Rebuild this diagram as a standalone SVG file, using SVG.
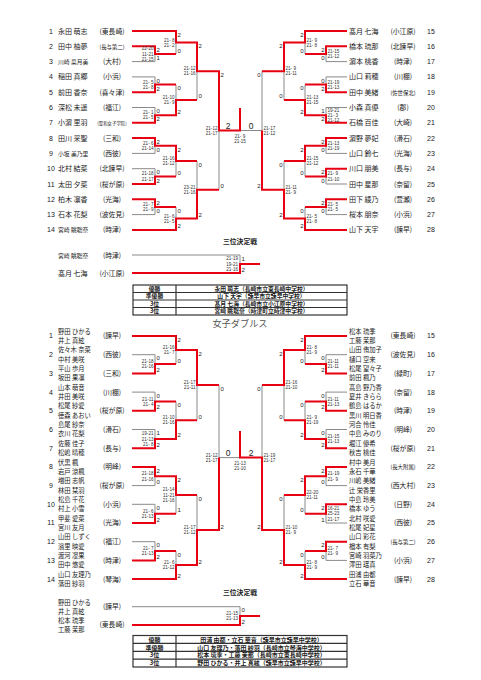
<svg xmlns="http://www.w3.org/2000/svg" width="481" height="680" viewBox="0 0 481 680">
<style>
.t{font-family:"Noto Sans CJK JP","Noto Sans CJK SC",sans-serif;fill:#1a1a1a}
.nm{font-size:7px}
.dn{font-size:6.3px}
.sm{font-size:5.8px}
.sch{font-size:6.8px;text-anchor:middle}
.ss{font-size:5.4px}
.xs{font-size:4.4px}
.num{font-family:"Liberation Sans",sans-serif;font-size:7px;text-anchor:middle;fill:#1a1a1a}
.sc{font-family:"Liberation Sans",sans-serif;font-size:4.6px;fill:#333}
.e{text-anchor:end}
.m{text-anchor:middle}
.ct{font-family:"Liberation Sans",sans-serif;font-size:6px;fill:#222}
.fc{font-family:"Liberation Sans",sans-serif;font-size:8.5px;fill:#222;text-anchor:middle}
.r{stroke:#e60012;stroke-width:2;fill:none}
.g{stroke:#8a8a8a;stroke-width:1;fill:none}
.tb{fill:none;stroke:#333;stroke-width:1.2}
.tt{font-family:"Noto Sans CJK JP",sans-serif;font-size:5.8px;font-weight:bold;fill:#1a1a1a;text-anchor:middle}
.td{font-size:6px}
.ti{font-family:"Noto Sans CJK JP",sans-serif;font-size:6.8px;font-weight:bold;fill:#1a1a1a;text-anchor:middle}
.hd{font-family:"Noto Sans CJK JP",sans-serif;font-size:9.2px;fill:#555;text-anchor:middle}
</style>

<!-- ===== connectors ===== -->
<g id="connectors">
<path class="g" d="M132 61.6H155V54M176 54V42.5M132 76.9H155V84.6M132 107.5H155V115.2M176 84.6V99.9M197 99.9V71.2M132 153.4H155V145.8M132 168.7H155V176.4M176 176.4V161.1M132 214.6H155V207M176 207V218.5M197 161.1V189.8M219 189.8V130.5"/>
<path class="g" d="M262 130.5H240M347 61.6H326V54M305 54V42.5M347 76.9H326V84.6M347 107.5H326V115.2M305 84.6V99.9M284 99.9V71.2M347 153.4H326V145.8M347 184H326V176.4M305 176.4V161.1M347 214.6H326V207M305 207V218.5M284 161.1V189.8M262 71.2V130.5"/>
<path class="g" d="M132 255H240V264"/>
<path class="r" d="M132 31H176V42.5H197V71.2H219V130.5H240V108"/>
<path class="r" d="M132 46.3H155V54H176"/>
<path class="r" d="M132 92.2H155V84.6H176"/>
<path class="r" d="M132 122.8H155V115.2H176V99.9H197"/>
<path class="r" d="M132 138.1H155V145.8H176V161.1H197"/>
<path class="r" d="M132 184H155V176.4H176"/>
<path class="r" d="M132 199.3H155V207H176"/>
<path class="r" d="M132 229.9H176V218.5H197V189.8H219"/>
<path class="r" d="M347 31H305V42.5H284V71.2H262"/>
<path class="r" d="M347 46.3H326V54H305"/>
<path class="r" d="M347 92.2H326V84.6H305"/>
<path class="r" d="M347 122.8H326V115.2H305V99.9H284"/>
<path class="r" d="M347 138.1H326V145.8H305V161.1H284"/>
<path class="r" d="M347 168.7H326V176.4H305"/>
<path class="r" d="M347 199.3H326V207H305"/>
<path class="r" d="M347 229.9H305V218.5H284V189.8H262V130.5"/>
<path class="r" d="M132 273H240V264H260"/>
<path class="g" d="M132 354.7H155V364.1M176 364.1V350M132 392.1H155V401.5M132 429.5H155V438.9M176 401.5V420.2M197 420.2V385.1M132 485.6H155V476.3M132 504.3H155V513.7M176 513.7V495M132 541.7H155V551.1M176 551.1V565.1M197 495V530M219 385.1V457.6H240"/>
<path class="g" d="M347 354.7H326V364.1M305 364.1V350M347 392.1H326V401.5M347 429.5H326V438.9M305 401.5V420.2M284 420.2V385.1M347 485.6H326V476.3M347 523H326V513.7M305 513.7V495M347 560.4H326V551.1M305 551.1V565.1M284 495V530M262 385.1V457.6"/>
<path class="g" d="M132 606.7H240V615.9"/>
<path class="r" d="M132 336H176V350H197V385.1H219"/>
<path class="r" d="M132 373.4H155V364.1H176"/>
<path class="r" d="M132 410.8H155V401.5H176"/>
<path class="r" d="M132 448.2H155V438.9H176V420.2H197"/>
<path class="r" d="M132 466.9H155V476.3H176V495H197"/>
<path class="r" d="M132 523H155V513.7H176"/>
<path class="r" d="M132 560.4H155V551.1H176"/>
<path class="r" d="M132 579.1H176V565.1H197V530H219V457.6"/>
<path class="r" d="M347 336H305V350H284V385.1H262"/>
<path class="r" d="M347 373.4H326V364.1H305"/>
<path class="r" d="M347 410.8H326V401.5H305"/>
<path class="r" d="M347 448.2H326V438.9H305V420.2H284"/>
<path class="r" d="M347 466.9H326V476.3H305V495H284"/>
<path class="r" d="M347 504.3H326V513.7H305"/>
<path class="r" d="M347 541.7H326V551.1H305"/>
<path class="r" d="M347 579.1H305V565.1H284V530H262V457.6H240V431"/>
<path class="r" d="M132 625H240V615.9H260"/>
</g>

<!-- ===== scores ===== -->
<g id="scores-singles">
<text class="sc e" x="153.5" y="50.4">22-20</text><text class="sc e" x="153.5" y="55.6">11-21</text><text class="sc e" x="153.5" y="60.8">21-15</text>
<text class="sc e" x="174.5" y="41.5">21- 8</text><text class="sc e" x="174.5" y="46.7">21- 2</text>
<text class="sc e" x="153.5" y="83.6">21- 5</text><text class="sc e" x="153.5" y="88.8">21- 8</text>
<text class="sc e" x="153.5" y="114.2">21- 1</text><text class="sc e" x="153.5" y="119.4">21- 5</text>
<text class="sc e" x="174.5" y="98.9">21-10</text><text class="sc e" x="174.5" y="104.1">21- 9</text>
<text class="sc e" x="195.5" y="70.2">21-12</text><text class="sc e" x="195.5" y="75.4">21-16</text>
<text class="sc e" x="153.5" y="144.8">21- 6</text><text class="sc e" x="153.5" y="150">21-14</text>
<text class="sc e" x="153.5" y="175.4">21-18</text><text class="sc e" x="153.5" y="180.6">21-17</text>
<text class="sc e" x="174.5" y="160.1">21-16</text><text class="sc e" x="174.5" y="165.3">21-12</text>
<text class="sc e" x="153.5" y="206">21- 7</text><text class="sc e" x="153.5" y="211.2">21- 9</text>
<text class="sc e" x="174.5" y="217.5">21- 6</text><text class="sc e" x="174.5" y="222.7">21- 5</text>
<text class="sc e" x="195.5" y="188.8">23-21</text><text class="sc e" x="195.5" y="194">21-16</text>
<text class="sc e" x="217.5" y="129.5">21-12</text><text class="sc e" x="217.5" y="134.7">21-17</text>
<text class="ct" x="156.5" y="52">2</text><text class="ct" x="156.5" y="60.1">1</text>
<text class="ct" x="177.5" y="36.7">2</text><text class="ct" x="177.5" y="52.5">0</text>
<text class="ct" x="156.5" y="82.6">0</text><text class="ct" x="156.5" y="90.7">2</text>
<text class="ct" x="156.5" y="113.2">0</text><text class="ct" x="156.5" y="121.3">2</text>
<text class="ct" x="177.5" y="90.3">0</text><text class="ct" x="177.5" y="113.7">2</text>
<text class="ct" x="198.5" y="48.2">2</text><text class="ct" x="198.5" y="98.4">0</text>
<text class="ct" x="156.5" y="143.8">2</text><text class="ct" x="156.5" y="151.9">0</text>
<text class="ct" x="156.5" y="174.4">0</text><text class="ct" x="156.5" y="182.5">2</text>
<text class="ct" x="177.5" y="151.5">2</text><text class="ct" x="177.5" y="174.9">0</text>
<text class="ct" x="156.5" y="205">2</text><text class="ct" x="156.5" y="213.1">0</text>
<text class="ct" x="177.5" y="212.7">0</text><text class="ct" x="177.5" y="228.4">2</text>
<text class="ct" x="198.5" y="166.8">0</text><text class="ct" x="198.5" y="217">2</text>
<text class="ct" x="220.5" y="76.9">2</text><text class="ct" x="220.5" y="188.3">0</text>
<text class="sc" x="327.5" y="53">21-15</text><text class="sc" x="327.5" y="58.2">21-12</text>
<text class="sc" x="306.5" y="41.5">21- 9</text><text class="sc" x="306.5" y="46.7">21- 8</text>
<text class="sc" x="327.5" y="83.6">21-19</text><text class="sc" x="327.5" y="88.8">21-13</text>
<text class="sc" x="327.5" y="111.6">19-21</text><text class="sc" x="327.5" y="116.8">21- 3</text><text class="sc" x="327.5" y="122">21-12</text>
<text class="sc" x="306.5" y="98.9">21-13</text><text class="sc" x="306.5" y="104.1">21-15</text>
<text class="sc" x="285.5" y="70.2">21- 9</text><text class="sc" x="285.5" y="75.4">21-11</text>
<text class="sc" x="327.5" y="144.8">21-13</text><text class="sc" x="327.5" y="150">21-19</text>
<text class="sc" x="327.5" y="175.4">21- 9</text><text class="sc" x="327.5" y="180.6">21-10</text>
<text class="sc" x="306.5" y="160.1">21-15</text><text class="sc" x="306.5" y="165.3">21-12</text>
<text class="sc" x="327.5" y="206">21- 5</text><text class="sc" x="327.5" y="211.2">21- 5</text>
<text class="sc" x="306.5" y="217.5">21- 5</text><text class="sc" x="306.5" y="222.7">21- 8</text>
<text class="sc" x="285.5" y="188.8">21-11</text><text class="sc" x="285.5" y="194">21- 9</text>
<text class="sc" x="263.5" y="129.5">21-17</text><text class="sc" x="263.5" y="134.7">21-12</text>
<text class="ct e" x="324.5" y="52">2</text><text class="ct e" x="324.5" y="60.1">0</text>
<text class="ct e" x="303.5" y="36.7">2</text><text class="ct e" x="303.5" y="52.5">0</text>
<text class="ct e" x="324.5" y="82.6">0</text><text class="ct e" x="324.5" y="90.7">2</text>
<text class="ct e" x="324.5" y="113.2">1</text><text class="ct e" x="324.5" y="121.3">2</text>
<text class="ct e" x="303.5" y="90.3">0</text><text class="ct e" x="303.5" y="113.7">2</text>
<text class="ct e" x="282.5" y="48.2">2</text><text class="ct e" x="282.5" y="98.4">0</text>
<text class="ct e" x="324.5" y="143.8">2</text><text class="ct e" x="324.5" y="151.9">0</text>
<text class="ct e" x="324.5" y="174.4">2</text><text class="ct e" x="324.5" y="182.5">0</text>
<text class="ct e" x="303.5" y="151.5">2</text><text class="ct e" x="303.5" y="174.9">0</text>
<text class="ct e" x="324.5" y="205">2</text><text class="ct e" x="324.5" y="213.1">0</text>
<text class="ct e" x="303.5" y="212.7">0</text><text class="ct e" x="303.5" y="228.4">2</text>
<text class="ct e" x="282.5" y="166.8">0</text><text class="ct e" x="282.5" y="217">2</text>
<text class="ct e" x="260.5" y="76.9">0</text><text class="ct e" x="260.5" y="188.3">2</text>
<text class="fc" x="228" y="128.5">2</text><text class="fc" x="251" y="128.5">0</text>
<text class="sc m" x="240" y="137.5">21- 9</text><text class="sc m" x="240" y="142.7">21-15</text>
<text class="sc e" x="238" y="260.4">21-19</text><text class="sc e" x="238" y="265.6">19-21</text><text class="sc e" x="238" y="270.8">21-16</text>
<text class="ct" x="241.5" y="260.7">1</text><text class="ct" x="241.5" y="271.5">2</text>
</g>

<g id="scores-doubles">
<text class="sc e" x="153.5" y="363.1">21-18</text><text class="sc e" x="153.5" y="368.3">21-16</text>
<text class="sc e" x="174.5" y="349">21-16</text><text class="sc e" x="174.5" y="354.2">21- 7</text>
<text class="sc e" x="153.5" y="400.5">21-11</text><text class="sc e" x="153.5" y="405.7">21- 4</text>
<text class="sc e" x="153.5" y="435.3">19-21</text><text class="sc e" x="153.5" y="440.5">21-13</text><text class="sc e" x="153.5" y="445.7">21- 8</text>
<text class="sc e" x="174.5" y="419.2">21-10</text><text class="sc e" x="174.5" y="424.4">21-16</text>
<text class="sc e" x="195.5" y="384.1">21-17</text><text class="sc e" x="195.5" y="389.3">21-11</text>
<text class="sc e" x="153.5" y="475.3">21-18</text><text class="sc e" x="153.5" y="480.5">21-16</text>
<text class="sc e" x="153.5" y="512.7">21- 6</text><text class="sc e" x="153.5" y="517.9">21-13</text>
<text class="sc e" x="174.5" y="491.4">21-14</text><text class="sc e" x="174.5" y="496.6">11-21</text><text class="sc e" x="174.5" y="501.8">21-16</text>
<text class="sc e" x="153.5" y="550.1">21- 7</text><text class="sc e" x="153.5" y="555.3">21-13</text>
<text class="sc e" x="174.5" y="564.1">21- 6</text><text class="sc e" x="174.5" y="569.3">21-12</text>
<text class="sc e" x="195.5" y="529">21-17</text><text class="sc e" x="195.5" y="534.2">21-12</text>
<text class="sc e" x="217.5" y="456.6">21-12</text><text class="sc e" x="217.5" y="461.8">21-17</text>
<text class="ct" x="156.5" y="360.4">0</text><text class="ct" x="156.5" y="371.9">2</text>
<text class="ct" x="177.5" y="341.7">2</text><text class="ct" x="177.5" y="362.6">0</text>
<text class="ct" x="156.5" y="397.8">0</text><text class="ct" x="156.5" y="409.3">2</text>
<text class="ct" x="156.5" y="435.2">1</text><text class="ct" x="156.5" y="446.7">2</text>
<text class="ct" x="177.5" y="407.2">0</text><text class="ct" x="177.5" y="437.4">2</text>
<text class="ct" x="198.5" y="355.7">2</text><text class="ct" x="198.5" y="418.7">0</text>
<text class="ct" x="156.5" y="472.6">2</text><text class="ct" x="156.5" y="484.1">0</text>
<text class="ct" x="156.5" y="510">0</text><text class="ct" x="156.5" y="521.5">2</text>
<text class="ct" x="177.5" y="482">2</text><text class="ct" x="177.5" y="512.2">1</text>
<text class="ct" x="156.5" y="547.4">0</text><text class="ct" x="156.5" y="558.9">2</text>
<text class="ct" x="177.5" y="556.8">0</text><text class="ct" x="177.5" y="577.6">2</text>
<text class="ct" x="198.5" y="500.7">0</text><text class="ct" x="198.5" y="563.6">2</text>
<text class="ct" x="220.5" y="390.8">0</text><text class="ct" x="220.5" y="528.5">2</text>
<text class="sc" x="327.5" y="363.1">21-11</text><text class="sc" x="327.5" y="368.3">21-11</text>
<text class="sc" x="306.5" y="349">21- 8</text><text class="sc" x="306.5" y="354.2">21- 9</text>
<text class="sc" x="327.5" y="400.5">21-11</text><text class="sc" x="327.5" y="405.7">21-13</text>
<text class="sc" x="327.5" y="437.9">21-15</text><text class="sc" x="327.5" y="443.1">21-13</text>
<text class="sc" x="306.5" y="419.2">21- 9</text><text class="sc" x="306.5" y="424.4">21-19</text>
<text class="sc" x="285.5" y="384.1">21-16</text><text class="sc" x="285.5" y="389.3">21-10</text>
<text class="sc" x="327.5" y="475.3">21-19</text><text class="sc" x="327.5" y="480.5">21- 9</text>
<text class="sc" x="327.5" y="510.1">16-21</text><text class="sc" x="327.5" y="515.3">25-23</text><text class="sc" x="327.5" y="520.5">21-17</text>
<text class="sc" x="306.5" y="494">22-20</text><text class="sc" x="306.5" y="499.2">21-11</text>
<text class="sc" x="327.5" y="550.1">21- 7</text><text class="sc" x="327.5" y="555.3">21- 9</text>
<text class="sc" x="306.5" y="564.1">21- 8</text><text class="sc" x="306.5" y="569.3">21- 9</text>
<text class="sc" x="285.5" y="529">21-10</text><text class="sc" x="285.5" y="534.2">21- 9</text>
<text class="sc" x="263.5" y="456.6">21-19</text><text class="sc" x="263.5" y="461.8">21-17</text>
<text class="ct e" x="324.5" y="360.4">0</text><text class="ct e" x="324.5" y="371.9">2</text>
<text class="ct e" x="303.5" y="341.7">2</text><text class="ct e" x="303.5" y="362.6">0</text>
<text class="ct e" x="324.5" y="397.8">0</text><text class="ct e" x="324.5" y="409.3">2</text>
<text class="ct e" x="324.5" y="435.2">0</text><text class="ct e" x="324.5" y="446.7">2</text>
<text class="ct e" x="303.5" y="407.2">0</text><text class="ct e" x="303.5" y="437.4">2</text>
<text class="ct e" x="282.5" y="355.7">2</text><text class="ct e" x="282.5" y="418.7">0</text>
<text class="ct e" x="324.5" y="472.6">2</text><text class="ct e" x="324.5" y="484.1">0</text>
<text class="ct e" x="324.5" y="510">2</text><text class="ct e" x="324.5" y="521.5">1</text>
<text class="ct e" x="303.5" y="482">2</text><text class="ct e" x="303.5" y="512.2">0</text>
<text class="ct e" x="324.5" y="547.4">2</text><text class="ct e" x="324.5" y="558.9">0</text>
<text class="ct e" x="303.5" y="556.8">0</text><text class="ct e" x="303.5" y="577.6">2</text>
<text class="ct e" x="282.5" y="500.7">0</text><text class="ct e" x="282.5" y="563.6">2</text>
<text class="ct e" x="260.5" y="390.8">0</text><text class="ct e" x="260.5" y="528.5">2</text>
<text class="fc" x="228" y="455.5">0</text><text class="fc" x="251" y="455.5">2</text>
<text class="sc m" x="240" y="465">21-13</text><text class="sc m" x="240" y="470.2">21-10</text>
<text class="sc e" x="238" y="614.9">21-15</text><text class="sc e" x="238" y="620.1">21-13</text>
<text class="ct" x="241.5" y="612.4">0</text><text class="ct" x="241.5" y="623.5">2</text>
</g>

<!-- ===== singles entries ===== -->
<g id="s1"><text class="num" x="51" y="33.5">1</text><text class="t nm" x="58" y="33.5">永田 萌志</text><text class="t sch" x="112" y="33.5">(東長崎)</text></g>
<g id="s2"><text class="num" x="51" y="48.8">2</text><text class="t nm" x="58" y="48.8">田中 柚夢</text><text class="t sch ss" x="112" y="48.8">(長与第二)</text></g>
<g id="s3"><text class="num" x="51" y="64.1">3</text><text class="t sm" x="58" y="64.1">川崎 菜月美</text><text class="t sch" x="112" y="64.1">(大村)</text></g>
<g id="s4"><text class="num" x="51" y="79.4">4</text><text class="t nm" x="58" y="79.4">稲田 真郷</text><text class="t sch" x="112" y="79.4">(小浜)</text></g>
<g id="s5"><text class="num" x="51" y="94.7">5</text><text class="t nm" x="58" y="94.7">前田 香奈</text><text class="t sch" x="112" y="94.7">(喜々津)</text></g>
<g id="s6"><text class="num" x="51" y="110">6</text><text class="t nm" x="58" y="110">深松 未遥</text><text class="t sch" x="112" y="110">(福江)</text></g>
<g id="s7"><text class="num" x="51" y="125.3">7</text><text class="t nm" x="58" y="125.3">小濵 里羽</text><text class="t sch xs" x="112" y="125.3">(聖和女子学院)</text></g>
<g id="s8"><text class="num" x="51" y="140.6">8</text><text class="t nm" x="58" y="140.6">田川 采聖</text><text class="t sch" x="112" y="140.6">(三和)</text></g>
<g id="s9"><text class="num" x="51" y="155.9">9</text><text class="t sm" x="58" y="155.9">小坂 美乃里</text><text class="t sch" x="112" y="155.9">(西彼)</text></g>
<g id="s10"><text class="num" x="51" y="171.2">10</text><text class="t nm" x="58" y="171.2">北村 結菜</text><text class="t sch" x="112" y="171.2">(北諫早)</text></g>
<g id="s11"><text class="num" x="51" y="186.5">11</text><text class="t nm" x="58" y="186.5">太田 夕菜</text><text class="t sch" x="112" y="186.5">(桜が原)</text></g>
<g id="s12"><text class="num" x="51" y="201.8">12</text><text class="t nm" x="58" y="201.8">柏木 凛香</text><text class="t sch" x="112" y="201.8">(光海)</text></g>
<g id="s13"><text class="num" x="51" y="217.1">13</text><text class="t nm" x="58" y="217.1">石本 花梨</text><text class="t sch" x="112" y="217.1">(波佐見)</text></g>
<g id="s14"><text class="num" x="51" y="232.4">14</text><text class="t sm" x="58" y="232.4">宮崎 眺聡奈</text><text class="t sch" x="112" y="232.4">(時津)</text></g>
<g id="s15"><text class="t nm" x="349" y="33.5">髙月 七海</text><text class="t sch" x="403" y="33.5">(小江原)</text><text class="num" x="431" y="33.5">15</text></g>
<g id="s16"><text class="t nm" x="349" y="48.8">橋本 琉那</text><text class="t sch" x="403" y="48.8">(北諫早)</text><text class="num" x="431" y="48.8">16</text></g>
<g id="s17"><text class="t nm" x="349" y="64.1">濵本 桃香</text><text class="t sch" x="403" y="64.1">(時津)</text><text class="num" x="431" y="64.1">17</text></g>
<g id="s18"><text class="t nm" x="349" y="79.4">山口 莉穂</text><text class="t sch" x="403" y="79.4">(川棚)</text><text class="num" x="431" y="79.4">18</text></g>
<g id="s19"><text class="t nm" x="349" y="94.7">田中 美緒</text><text class="t sch ss" x="403" y="94.7">(佐世保北)</text><text class="num" x="431" y="94.7">19</text></g>
<g id="s20"><text class="t nm" x="349" y="110">小森 真優</text><text class="t sch" x="403" y="110">(郡)</text><text class="num" x="431" y="110">20</text></g>
<g id="s21"><text class="t nm" x="349" y="125.3">石橋 百佳</text><text class="t sch" x="403" y="125.3">(大崎)</text><text class="num" x="431" y="125.3">21</text></g>
<g id="s22"><text class="t nm" x="349" y="140.6">濵野 夢妃</text><text class="t sch" x="403" y="140.6">(滑石)</text><text class="num" x="431" y="140.6">22</text></g>
<g id="s23"><text class="t nm" x="349" y="155.9">山口 鈴七</text><text class="t sch" x="403" y="155.9">(光海)</text><text class="num" x="431" y="155.9">23</text></g>
<g id="s24"><text class="t nm" x="349" y="171.2">川口 朋美</text><text class="t sch" x="403" y="171.2">(長与)</text><text class="num" x="431" y="171.2">24</text></g>
<g id="s25"><text class="t nm" x="349" y="186.5">田中 星那</text><text class="t sch" x="403" y="186.5">(奈留)</text><text class="num" x="431" y="186.5">25</text></g>
<g id="s26"><text class="t nm" x="349" y="201.8">田下 綾乃</text><text class="t sch" x="403" y="201.8">(萱瀬)</text><text class="num" x="431" y="201.8">26</text></g>
<g id="s27"><text class="t nm" x="349" y="217.1">桜本 朋奈</text><text class="t sch" x="403" y="217.1">(小浜)</text><text class="num" x="431" y="217.1">27</text></g>
<g id="s28"><text class="t nm" x="349" y="232.4">山下 天宇</text><text class="t sch" x="403" y="232.4">(諫早)</text><text class="num" x="431" y="232.4">28</text></g>

<g id="s-third">
<text class="ti" x="240" y="244">三位決定戦</text>
<text class="t sm" x="58" y="257.5">宮崎 眺聡奈</text><text class="t sch" x="112" y="257.5">(時津)</text>
<text class="t nm" x="58" y="275.5">髙月 七海</text><text class="t sch" x="112" y="275.5">(小江原)</text>
</g>

<g id="s-table">
<rect class="tb" x="133" y="285" width="214" height="30"/>
<path class="tb" d="M133 292.5H347M133 300H347M133 307.5H347M176 285V315"/>
<text class="tt" x="154.5" y="290.9">優勝</text><text class="tt" x="261.5" y="290.9">永田 萌志（長崎市立東長崎中学校）</text>
<text class="tt" x="154.5" y="298.4">準優勝</text><text class="tt" x="261.5" y="298.4">山下 天宇（諫早市立諫早中学校）</text>
<text class="tt" x="154.5" y="305.9">3位</text><text class="tt" x="261.5" y="305.9">髙月 七海（長崎市立小江原中学校）</text>
<text class="tt" x="154.5" y="313.4">3位</text><text class="tt" x="261.5" y="313.4">宮崎 眺聡奈（時津町立時津中学校）</text>
</g>

<text class="hd" x="240" y="326.6">女子ダブルス</text>

<!-- ===== doubles entries ===== -->
<g id="d1"><text class="num" x="51" y="338.4">1</text><text class="t dn" x="58" y="333.6">野田 ひかる</text><text class="t dn" x="58" y="342.9">井上 真絃</text><text class="t sch" x="112" y="338.4">(諫早)</text></g>
<g id="d2"><text class="num" x="51" y="357.1">2</text><text class="t dn" x="58" y="352.3">佐々木 奈菜</text><text class="t dn" x="58" y="361.6">中村 美咲</text><text class="t sch" x="112" y="357.1">(西彼)</text></g>
<g id="d3"><text class="num" x="51" y="375.8">3</text><text class="t dn" x="58" y="371">平山 歩月</text><text class="t dn" x="58" y="380.3">坂田 果凛</text><text class="t sch" x="112" y="375.8">(三和)</text></g>
<g id="d4"><text class="num" x="51" y="394.5">4</text><text class="t dn" x="58" y="389.7">山本 萌音</text><text class="t dn" x="58" y="399">井田 美咲</text><text class="t sch" x="112" y="394.5">(川棚)</text></g>
<g id="d5"><text class="num" x="51" y="413.2">5</text><text class="t dn" x="58" y="408.4">松尾 紗愛</text><text class="t dn" x="58" y="417.7">徳森 あおい</text><text class="t sch" x="112" y="413.2">(桜が原)</text></g>
<g id="d6"><text class="num" x="51" y="431.9">6</text><text class="t dn" x="58" y="427.1">島尾 紗奈</text><text class="t dn" x="58" y="436.4">衣川 花梨</text><text class="t sch" x="112" y="431.9">(滑石)</text></g>
<g id="d7"><text class="num" x="51" y="450.6">7</text><text class="t dn" x="58" y="445.8">佐藤 佳子</text><text class="t dn" x="58" y="455.1">松嶋 晴穂</text><text class="t sch" x="112" y="450.6">(長与)</text></g>
<g id="d8"><text class="num" x="51" y="469.3">8</text><text class="t dn" x="58" y="464.5">伏黒 楓</text><text class="t dn" x="58" y="473.8">岩戸 涼楓</text><text class="t sch" x="112" y="469.3">(明峰)</text></g>
<g id="d9"><text class="num" x="51" y="488">9</text><text class="t dn" x="58" y="483.2">増田 志帆</text><text class="t dn" x="58" y="492.5">林田 栞羽</text><text class="t sch" x="112" y="488">(桜が原)</text></g>
<g id="d10"><text class="num" x="51" y="506.7">10</text><text class="t dn" x="58" y="501.9">松島 千花</text><text class="t dn" x="58" y="511.2">村上 小雪</text><text class="t sch" x="112" y="506.7">(小浜)</text></g>
<g id="d11"><text class="num" x="51" y="525.4">11</text><text class="t dn" x="58" y="520.6">甲斐 愛菜</text><text class="t dn" x="58" y="529.9">宮川 友月</text><text class="t sch" x="112" y="525.4">(光海)</text></g>
<g id="d12"><text class="num" x="51" y="544.1">12</text><text class="t dn" x="58" y="539.3">山田 しずく</text><text class="t dn" x="58" y="548.6">濱里 映愛</text><text class="t sch" x="112" y="544.1">(福江)</text></g>
<g id="d13"><text class="num" x="51" y="562.8">13</text><text class="t dn" x="58" y="558">渡河 凜果</text><text class="t dn" x="58" y="567.3">田中 悠愛</text><text class="t sch" x="112" y="562.8">(時津)</text></g>
<g id="d14"><text class="num" x="51" y="581.5">14</text><text class="t dn" x="58" y="576.7">山口 友理乃</text><text class="t dn" x="58" y="586">落田 紗羽</text><text class="t sch" x="112" y="581.5">(琴海)</text></g>
<g id="d15"><text class="t dn" x="349" y="333.6">松本 琉季</text><text class="t dn" x="349" y="342.9">工藤 茉那</text><text class="t sch" x="403" y="338.4">(東長崎)</text><text class="num" x="431" y="338.4">15</text></g>
<g id="d16"><text class="t dn" x="349" y="352.3">山田 侑加子</text><text class="t dn" x="349" y="361.6">樋口 空来</text><text class="t sch" x="403" y="357.1">(波佐見)</text><text class="num" x="431" y="357.1">16</text></g>
<g id="d17"><text class="t dn" x="349" y="371">松尾 望々子</text><text class="t dn" x="349" y="380.3">前田 楓乃</text><text class="t sch" x="403" y="375.8">(緑町)</text><text class="num" x="431" y="375.8">17</text></g>
<g id="d18"><text class="t dn" x="349" y="389.7">髙島 野乃香</text><text class="t dn" x="349" y="399">夏井 きらら</text><text class="t sch" x="403" y="394.5">(奈留)</text><text class="num" x="431" y="394.5">18</text></g>
<g id="d19"><text class="t dn" x="349" y="408.4">鶴島 はるか</text><text class="t dn" x="349" y="417.7">黒川 明日香</text><text class="t sch" x="403" y="413.2">(時津)</text><text class="num" x="431" y="413.2">19</text></g>
<g id="d20"><text class="t dn" x="349" y="427.1">河合 怜佳</text><text class="t dn" x="349" y="436.4">中島 みのり</text><text class="t sch" x="403" y="431.9">(明峰)</text><text class="num" x="431" y="431.9">20</text></g>
<g id="d21"><text class="t dn" x="349" y="445.8">堀江 優希</text><text class="t dn" x="349" y="455.1">秋吉 桃佳</text><text class="t sch" x="403" y="450.6">(桜が原)</text><text class="num" x="431" y="450.6">21</text></g>
<g id="d22"><text class="t dn" x="349" y="464.5">村中 美月</text><text class="t dn" x="349" y="473.8">永石 千華</text><text class="t sch ss" x="403" y="469.3">(長大附属)</text><text class="num" x="431" y="469.3">22</text></g>
<g id="d23"><text class="t dn" x="349" y="483.2">川嶋 美緒</text><text class="t dn" x="349" y="492.5">辻 栄香里</text><text class="t sch" x="403" y="488">(西大村)</text><text class="num" x="431" y="488">23</text></g>
<g id="d24"><text class="t dn" x="349" y="501.9">中島 玲美</text><text class="t dn" x="349" y="511.2">橋本 ゆう</text><text class="t sch" x="403" y="506.7">(日野)</text><text class="num" x="431" y="506.7">24</text></g>
<g id="d25"><text class="t dn" x="349" y="520.6">北村 咲愛</text><text class="t dn" x="349" y="529.9">松尾 妃星</text><text class="t sch" x="403" y="525.4">(西彼)</text><text class="num" x="431" y="525.4">25</text></g>
<g id="d26"><text class="t dn" x="349" y="539.3">山口 彩花</text><text class="t dn" x="349" y="548.6">楢本 有梨</text><text class="t sch ss" x="403" y="544.1">(長与第二)</text><text class="num" x="431" y="544.1">26</text></g>
<g id="d27"><text class="t dn" x="349" y="558">宮崎 羽菜乃</text><text class="t dn" x="349" y="567.3">澤田 瑶真</text><text class="t sch" x="403" y="562.8">(小浜)</text><text class="num" x="431" y="562.8">27</text></g>
<g id="d28"><text class="t dn" x="349" y="576.7">田浦 由都</text><text class="t dn" x="349" y="586">立石 華音</text><text class="t sch" x="403" y="581.5">(諫早)</text><text class="num" x="431" y="581.5">28</text></g>

<g id="d-third">
<text class="ti" x="240" y="594.5">三位決定戦</text>
<text class="t dn" x="58" y="604.5">野田 ひかる</text><text class="t dn" x="58" y="613.9">井上 真絃</text><text class="t sch" x="112" y="609">(諫早)</text>
<text class="t dn" x="58" y="623.2">松本 琉季</text><text class="t dn" x="58" y="632.2">工藤 茉那</text><text class="t sch" x="112" y="627.4">(東長崎)</text>
</g>

<g id="d-table">
<rect class="tb" x="133" y="635.5" width="214" height="31.5"/>
<path class="tb" d="M133 643.4H347M133 651.3H347M133 659.2H347M176 635.5V667"/>
<text class="tt td" x="154.5" y="641.6">優勝</text><text class="tt td" x="261.5" y="641.6">田浦 由都・立石 華音（諫早市立諫早中学校）</text>
<text class="tt td" x="154.5" y="649.5">準優勝</text><text class="tt td" x="261.5" y="649.5">山口 友理乃・落田 紗羽（長崎市立琴海中学校）</text>
<text class="tt td" x="154.5" y="657.4">3位</text><text class="tt td" x="261.5" y="657.4">松本 琉季・工藤 茉那（長崎市立東長崎中学校）</text>
<text class="tt td" x="154.5" y="665.3">3位</text><text class="tt td" x="261.5" y="665.3">野田 ひかる・井上 真絃（諫早市立諫早中学校）</text>
</g>
</svg>
